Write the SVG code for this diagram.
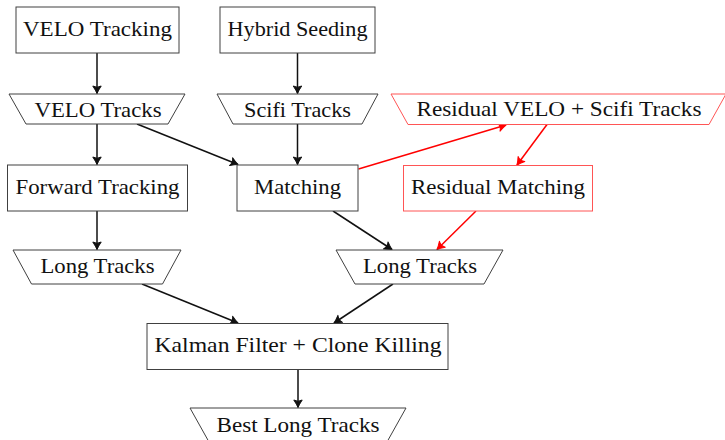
<svg xmlns="http://www.w3.org/2000/svg" width="725" height="440" viewBox="0 0 725 440">
<style>
.box{fill:#fff;stroke:#404040;stroke-width:1}
.rbox{fill:#fff;stroke:#f55;stroke-width:1}
.t{font-family:"Liberation Serif","Times New Roman",serif;font-size:21.5px;fill:#111;text-anchor:middle}
.e{fill:none;stroke:#111;stroke-width:1.5;marker-end:url(#ab)}
.re{fill:none;stroke:#f00;stroke-width:1.5;marker-end:url(#ar)}
</style>
<defs>
<marker id="ab" markerUnits="userSpaceOnUse" viewBox="-10 -6 12 12" refX="0" refY="0" markerWidth="12" markerHeight="12" orient="auto">
<path d="M-7.5,-4.2 Q-3,-1.2 0,0 Q-3,1.2 -7.5,4.2 Q-5,0 -7.5,-4.2 Z" fill="#111" stroke="#111" stroke-width="1" stroke-linejoin="round"/>
</marker>
<marker id="ar" markerUnits="userSpaceOnUse" viewBox="-10 -6 12 12" refX="0" refY="0" markerWidth="12" markerHeight="12" orient="auto">
<path d="M-7.5,-4.2 Q-3,-1.2 0,0 Q-3,1.2 -7.5,4.2 Q-5,0 -7.5,-4.2 Z" fill="#f00" stroke="#f00" stroke-width="1" stroke-linejoin="round"/>
</marker>
</defs>
<rect width="725" height="440" fill="#fff"/>
<g id="connectors">
<line class="e" x1="97" y1="53" x2="97" y2="93.5"/>
<line class="e" x1="297.5" y1="53" x2="297.5" y2="93.5"/>
<line class="e" x1="97" y1="124" x2="97" y2="164.5"/>
<line class="e" x1="297.5" y1="124" x2="297.5" y2="164.5"/>
<line class="e" x1="137" y1="124" x2="238" y2="164.5"/>
<line class="e" x1="97" y1="211" x2="97" y2="249.5"/>
<line class="e" x1="333" y1="211" x2="392" y2="249.5"/>
<line class="e" x1="142" y1="284" x2="238" y2="323"/>
<line class="e" x1="393" y1="284" x2="334" y2="323"/>
<line class="e" x1="298" y1="369.5" x2="298" y2="407.5"/>
<line class="re" x1="358.5" y1="169" x2="506" y2="125"/>
<line class="re" x1="547" y1="124.5" x2="517" y2="165"/>
<line class="re" x1="476" y1="211" x2="437" y2="249.5"/>
</g>
<g id="velo-tracking">
<rect class="box" x="16" y="7" width="163" height="46"/>
<text class="t" x="97.5" y="36" textLength="149" lengthAdjust="spacingAndGlyphs">VELO Tracking</text>
</g>
<g id="hybrid-seeding">
<rect class="box" x="220" y="7" width="155" height="46"/>
<text class="t" x="297.5" y="36" textLength="140" lengthAdjust="spacingAndGlyphs">Hybrid Seeding</text>
</g>
<g id="velo-tracks">
<polygon class="box" points="9,94 185,94 168,124 26,124"/>
<text class="t" x="98" y="117" textLength="127" lengthAdjust="spacingAndGlyphs">VELO Tracks</text>
</g>
<g id="scifi-tracks">
<polygon class="box" points="217,94 378,94 362,124 233,124"/>
<text class="t" x="297.5" y="117" textLength="107" lengthAdjust="spacingAndGlyphs">Scifi Tracks</text>
</g>
<g id="residual-tracks">
<polygon class="rbox" points="391,94 726,94 709,124.5 408,124.5"/>
<text class="t" x="559" y="116" textLength="285" lengthAdjust="spacingAndGlyphs">Residual VELO + Scifi Tracks</text>
</g>
<g id="forward-tracking">
<rect class="box" x="7.5" y="165" width="180" height="46"/>
<text class="t" x="97.5" y="194" textLength="164" lengthAdjust="spacingAndGlyphs">Forward Tracking</text>
</g>
<g id="matching">
<rect class="box" x="237" y="165" width="121" height="46"/>
<text class="t" x="297.5" y="194" textLength="87" lengthAdjust="spacingAndGlyphs">Matching</text>
</g>
<g id="residual-matching">
<rect class="rbox" x="403.5" y="165.5" width="189" height="45.5"/>
<text class="t" x="498" y="194" textLength="174" lengthAdjust="spacingAndGlyphs">Residual Matching</text>
</g>
<g id="long-tracks-left">
<polygon class="box" points="13,250 181,250 162.5,284 31.5,284"/>
<text class="t" x="97.5" y="273" textLength="114" lengthAdjust="spacingAndGlyphs">Long Tracks</text>
</g>
<g id="long-tracks-right">
<polygon class="box" points="336,250 503,250 484,284 355,284"/>
<text class="t" x="420" y="273" textLength="114" lengthAdjust="spacingAndGlyphs">Long Tracks</text>
</g>
<g id="kalman">
<rect class="box" x="147" y="323.5" width="301" height="46"/>
<text class="t" x="298" y="352" textLength="287" lengthAdjust="spacingAndGlyphs">Kalman Filter + Clone Killing</text>
</g>
<g id="best-long-tracks">
<polygon class="box" points="190,408 406,408 387,442 209,442"/>
<text class="t" x="298" y="432" textLength="163" lengthAdjust="spacingAndGlyphs">Best Long Tracks</text>
</g>
</svg>
